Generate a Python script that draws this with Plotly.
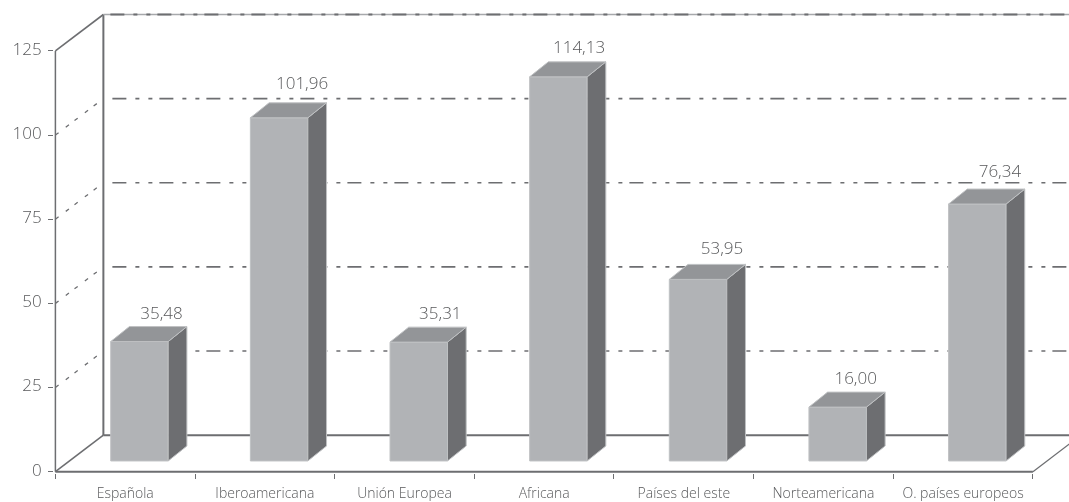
import plotly.graph_objects as go

categories = ["Española", "Iberoamericana", "Unión Europea", "Africana",
              "Países del este", "Norteamericana", "O. países europeos"]
values = [35.48, 101.96, 35.31, 114.13, 53.95, 16.00, 76.34]
y_ticks = [0, 25, 50, 75, 100, 125]

# layout of the pseudo-3D scene, in pixels of the 1069x502 page
W, H = 1069, 502
X0_PX, Y0_PX = 55, 472
CAT_PX, UNIT_PX = 139.7, 3.368
px_x = lambda p: p / CAT_PX
px_y = lambda p: p / UNIT_PX

WALL_DX, WALL_DY = px_x(48), px_y(36.5)
BAR_LEFT, BAR_W = px_x(-14.5), px_x(57.5)
BAR_BASE = px_y(10.7)
DEPTH_DX, DEPTH_DY = px_x(18.7), px_y(15)
# nudges of each value label, pixels from the bar's back top edge
label_dx = [22, 23, 21.6, 20.7, 24, 18, 22.6]
label_dy = [12, 18, 12, 13, 14.5, 12, 16]

DARK = "#6d6e71"
TEXT = "#58595b"
DASH = "14px,9px,4px,9px,4px,7px"
SIDE_DASH = "4px,9px,4px,7px"
FONT = "Open Sans"

n = len(categories)
centers = [i + 0.5 for i in range(n)]
x_lo, x_hi = -px_x(1.4), (W - X0_PX) / CAT_PX
y_lo, y_hi = -px_y(1.35), Y0_PX / UNIT_PX
y_top = y_ticks[-1]
right_end = x_hi + WALL_DX

shapes = []


def seg(x0, y0, x1, y1, width=2, dash="solid", color=DARK):
    shapes.append(dict(type="line", xref="x", yref="y", layer="below",
                       x0=x0, y0=y0, x1=x1, y1=y1,
                       line=dict(color=color, width=width, dash=dash)))


# walls and floor
seg(0, 0, 0, y_top, 1.5)
seg(WALL_DX, WALL_DY, WALL_DX, y_top + WALL_DY)
seg(0, y_top, WALL_DX, y_top + WALL_DY, 1.6)
seg(0, 0, WALL_DX, WALL_DY, 1.6)
seg(0, 0, n, 0)
seg(n, 0, n + WALL_DX, WALL_DY, 1.3)
seg(WALL_DX, WALL_DY, right_end, WALL_DY)
seg(WALL_DX, y_top + WALL_DY, right_end, y_top + WALL_DY, 1.5, color="#a7a9ac")
seg(WALL_DX + px_x(7), y_top + WALL_DY, right_end, y_top + WALL_DY, 1.8, DASH)
# dash-dot gridlines
for t in y_ticks[1:-1]:
    seg(0, t, WALL_DX, t + WALL_DY, 1.3, SIDE_DASH)
    seg(WALL_DX + px_x(9), t + WALL_DY, right_end, t + WALL_DY, 1.6, DASH)

fig = go.Figure()

# front faces
fig.add_trace(go.Bar(
    x=centers, y=values, base=BAR_BASE, width=BAR_W,
    offset=BAR_LEFT,
    marker=dict(color="#b1b3b6", line=dict(color="#bfc1c3", width=1)),
    showlegend=False, hoverinfo="skip",
))

# side and top faces
for c, v in zip(centers, values):
    left = c + BAR_LEFT
    right = left + BAR_W
    top = BAR_BASE + v
    fig.add_trace(go.Scatter(
        x=[right, right + DEPTH_DX, right + DEPTH_DX, right, right],
        y=[BAR_BASE, BAR_BASE + DEPTH_DY, top + DEPTH_DY, top, BAR_BASE],
        mode="lines", fill="toself", fillcolor=DARK,
        line=dict(color="#bfc1c3", width=1),
        showlegend=False, hoverinfo="skip",
    ))
    fig.add_trace(go.Scatter(
        x=[left, left + DEPTH_DX, right + DEPTH_DX, right, left],
        y=[top, top + DEPTH_DY, top + DEPTH_DY, top, top],
        mode="lines", fill="toself", fillcolor="#939598",
        line=dict(color="#bfc1c3", width=1),
        showlegend=False, hoverinfo="skip",
    ))

# value labels
fig.add_trace(go.Scatter(
    x=[c + BAR_LEFT + BAR_W / 2 + px_x(d) for c, d in zip(centers, label_dx)],
    y=[BAR_BASE + v + DEPTH_DY + px_y(d) for v, d in zip(values, label_dy)],
    mode="text",
    text=[f"{v:.2f}".replace(".", ",") for v in values],
    textposition="middle center",
    textfont=dict(family=FONT, size=17, color=TEXT, weight=300),
    showlegend=False, hoverinfo="skip", cliponaxis=False,
))

fig.update_layout(
    width=W, height=H, autosize=False,
    margin=dict(l=X0_PX - 1.4, r=0, t=0, b=H - Y0_PX - 1.35, pad=0),
    paper_bgcolor="white", plot_bgcolor="white",
    shapes=shapes, showlegend=False,
    xaxis=dict(
        range=[x_lo, x_hi], showgrid=False, zeroline=False, showline=False,
        tickmode="array", tickvals=centers, ticktext=categories,
        ticks="outside", ticklen=7, tickcolor="rgba(0,0,0,0)",
        tickfont=dict(family=FONT, size=14, color=TEXT, weight=300),
        minor=dict(tickmode="array", tickvals=list(range(n + 1)),
                   ticks="outside", ticklen=5, tickwidth=1.4, tickcolor=DARK,
                   showgrid=False),
    ),
    yaxis=dict(
        range=[y_lo, y_hi], showgrid=False, zeroline=False, showline=False,
        tickmode="array", tickvals=y_ticks, ticktext=[str(t) for t in y_ticks],
        ticks="outside", ticklen=5, tickwidth=1.4, tickcolor=DARK,
        tickfont=dict(family=FONT, size=17, color=TEXT, weight=300),
        ticklabelstandoff=3, ticklabelshift=-2,
    ),
)

fig.write_html(
    "out.html",
    config={"displayModeBar": False},
    post_script="document.documentElement.style.overflow='hidden';"
                "document.body.style.margin='0';"
                "var s=document.createElement('style');"
                "s.textContent='.main-svg{will-change:transform;}';"
                "document.head.appendChild(s);",
)
